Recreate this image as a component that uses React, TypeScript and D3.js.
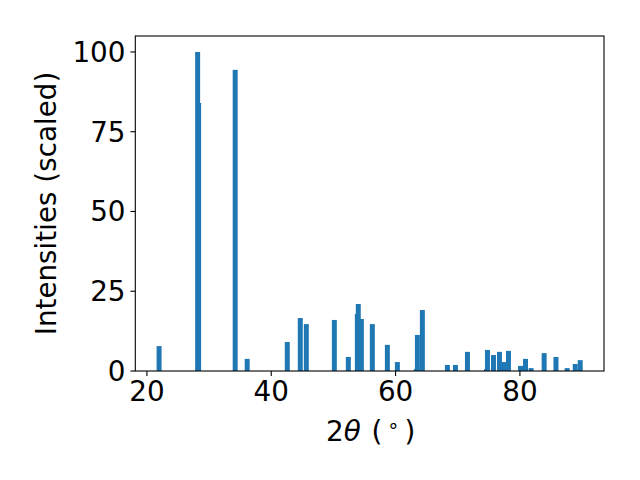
import React from 'react'
import * as d3 from 'd3'

// peak positions (2θ, degrees) and scaled intensities
const twoTheta = [
  21.96, 28.16, 28.32, 34.2, 36.13, 42.58, 44.67, 45.64, 50.15, 52.4,
  53.85, 54.0, 54.5, 56.26, 58.68, 60.29, 63.35, 63.51, 64.31, 68.34,
  69.63, 71.56, 74.62, 74.78, 75.75, 76.71, 77.36, 78.16, 80.1, 80.9,
  81.8, 83.9, 85.8, 87.6, 88.9, 89.7,
]
const intensity = [
  7.8, 100, 84, 94.4, 3.8, 9.1, 16.6, 14.7, 16.0, 4.4,
  17.9, 21.0, 16.3, 14.7, 8.2, 2.8, 0.6, 11.3, 19.1, 1.9,
  1.9, 6.0, 0.6, 6.6, 5.0, 6.0, 2.8, 6.3, 1.6, 3.8,
  0.9, 5.6, 4.4, 0.9, 2.2, 3.4,
]
const xTicks = [20, 40, 60, 80]
const yTicks = [0, 25, 50, 75, 100]

const barWidth = 0.8
const W = 640, H = 480
const margin = { top: 36, right: 36, bottom: 109, left: 135.3 }
const font = 'DejaVu Sans, sans-serif'
const fs = 27.8

export default function App() {
  const peaks = twoTheta.map((t, i) => ({ t, v: intensity[i] }))
  const lo = d3.min(twoTheta)! - barWidth / 2
  const hi = d3.max(twoTheta)! + barWidth / 2
  const pad = (hi - lo) * 0.05
  const x = d3.scaleLinear().domain([lo - pad, hi + pad]).range([margin.left, W - margin.right])
  const y = d3.scaleLinear().domain([0, 105]).range([H - margin.bottom, margin.top])
  const [x0, x1] = x.range()
  const [y0, y1] = y.range()

  return (
    <div style={{ position: 'fixed', left: 0, top: 0 }}>
      <svg width={W} height={H} style={{ display: 'block', background: '#fff' }}>
        {peaks.map((d, i) => (
          <rect key={i} x={x(d.t - barWidth / 2)} y={y(d.v)}
            width={x(d.t + barWidth / 2) - x(d.t - barWidth / 2)} height={y(0) - y(d.v)}
            fill="#1f77b4" />
        ))}
        <rect x={x0} y={y1} width={x1 - x0} height={y0 - y1} fill="none" stroke="#000" strokeWidth={1.1} />
        {xTicks.map(t => (
          <g key={t}>
            <line x1={x(t)} x2={x(t)} y1={y0} y2={y0 + 4.9} stroke="#000" strokeWidth={1.1} />
            <text x={x(t)} y={y0 + 30} textAnchor="middle" fontFamily={font} fontSize={fs}>{t}</text>
          </g>
        ))}
        {yTicks.map(t => (
          <g key={t}>
            <line x1={x0} x2={x0 - 4.9} y1={y(t)} y2={y(t)} stroke="#000" strokeWidth={1.1} />
            <text x={x0 - 9.8} y={y(t)} dy="0.36em" textAnchor="end" fontFamily={font} fontSize={fs}>{t}</text>
          </g>
        ))}
        <text x={(x0 + x1) / 2 + 1} y={441} textAnchor="middle" fontFamily={font} fontSize={fs}>
          2<tspan fontStyle="italic">θ</tspan><tspan dx={2}> (</tspan>
          <tspan dx={5} fontSize={fs * 0.7} dy={-9}>∘</tspan><tspan dx={5} dy={9}>)</tspan>
        </text>
        <text transform={`translate(55.5,${(y0 + y1) / 2}) rotate(-90)`} textAnchor="middle" fontFamily={font} fontSize={fs}>
          Intensities (scaled)
        </text>
      </svg>
    </div>
  )
}
